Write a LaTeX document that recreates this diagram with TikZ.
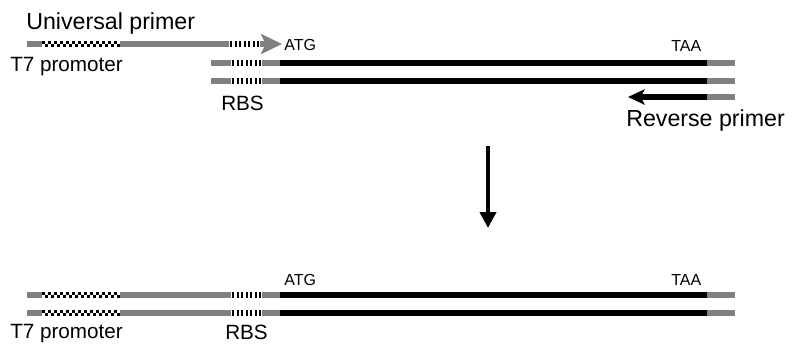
\documentclass[tikz,border=0pt]{standalone}
\usepackage{fontspec}
\setmainfont{Liberation Sans}
\usepackage{tikz}
\usetikzlibrary{arrows.meta}
\definecolor{gr}{RGB}{128, 128, 128}

\begin{document}
\begin{tikzpicture}[x=0.75pt, y=-0.75pt,
        graybar/.style={gr, line width=4.5pt},
        blackbar/.style={black, line width=3.9pt},
        bigtxt/.style={font=\fontsize{17.4}{20}\selectfont, anchor=base west, inner sep=0pt},
        midtxt/.style={font=\fontsize{15.5}{18}\selectfont, anchor=base west, inner sep=0pt},
        smalltxt/.style={font=\fontsize{12}{14}\selectfont, anchor=base west, inner sep=0pt}]
        \useasboundingbox (0,0) rectangle (793,347);
        % primer and template
        \coordinate (ua) at (27,44);
        \coordinate (ub) at (282,44);
        \draw[graybar, -{Stealth[length=15.75pt, width=15pt, inset=3.5pt]}] (ua) -- (ub);
        \fill[white] (42,41) rectangle (120,47);
        \foreach \x in {42,48,...,114} \fill (\x,41) rectangle +(3,3);
        \foreach \x in {45,51,...,117} \fill (\x,44) rectangle +(3,3);
        \fill[white] (229,41) rectangle (260,47);
        \foreach \x in {230,234.5,...,258} \fill (\x,41) rectangle +(2,6);
        \draw[graybar] (211,63) -- (280,63);
        \draw[blackbar] (280,63) -- (707,63);
        \draw[graybar] (707,63) -- (735,63);
        \fill[white] (231,60) rectangle (262,66);
        \foreach \x in {232,236.5,...,260} \fill (\x,60) rectangle +(2,6);
        \draw[graybar] (211,81) -- (280,81);
        \draw[blackbar] (280,81) -- (707,81);
        \draw[graybar] (707,81) -- (735,81);
        \fill[white] (231,78) rectangle (262,84);
        \foreach \x in {232,236.5,...,260} \fill (\x,78) rectangle +(2,6);
        \coordinate (ra) at (707,97);
        \coordinate (rb) at (628,97);
        \draw[blackbar, -{Stealth[length=12.5pt, width=11.5pt, inset=3pt]}] (ra) -- (rb);
        \draw[graybar] (707,97) -- (735,97);
        \node[bigtxt] (uni) at (26,29) {Universal primer};
        \node[midtxt] (t7top) at (10,71) {T7 promoter};
        \node[midtxt] (rbstop) at (221,110) {RBS};
        \node[smalltxt] (atgtop) at (284,50) {ATG};
        \node[smalltxt] (taatop) at (671,51) {TAA};
        \node[bigtxt] (rev) at (626,126) {Reverse primer};
        % step
        \coordinate (da) at (488,146);
        \coordinate (db) at (488,228);
        \draw[line width=3pt, -{Triangle[length=12pt, width=12pt]}] (da) -- (db);
        % product
        \draw[graybar] (27,295) -- (280,295);
        \draw[blackbar] (280,295) -- (707,295);
        \draw[graybar] (707,295) -- (735,295);
        \fill[white] (42,292) rectangle (120,298);
        \foreach \x in {42,48,...,114} \fill (\x,292) rectangle +(3,3);
        \foreach \x in {45,51,...,117} \fill (\x,295) rectangle +(3,3);
        \fill[white] (231,292) rectangle (262,298);
        \foreach \x in {232,236.5,...,260} \fill (\x,292) rectangle +(2,6);
        \draw[graybar] (27,313) -- (280,313);
        \draw[blackbar] (280,313) -- (707,313);
        \draw[graybar] (707,313) -- (735,313);
        \fill[white] (42,310) rectangle (120,316);
        \foreach \x in {42,48,...,114} \fill (\x,310) rectangle +(3,3);
        \foreach \x in {45,51,...,117} \fill (\x,313) rectangle +(3,3);
        \fill[white] (231,310) rectangle (262,316);
        \foreach \x in {232,236.5,...,260} \fill (\x,310) rectangle +(2,6);
        \node[smalltxt] (atgbot) at (284,285) {ATG};
        \node[smalltxt] (taabot) at (671,285) {TAA};
        \node[midtxt] (t7bot) at (10,338) {T7 promoter};
        \node[midtxt] (rbsbot) at (225,339) {RBS};
    \end{tikzpicture}
\end{document}
